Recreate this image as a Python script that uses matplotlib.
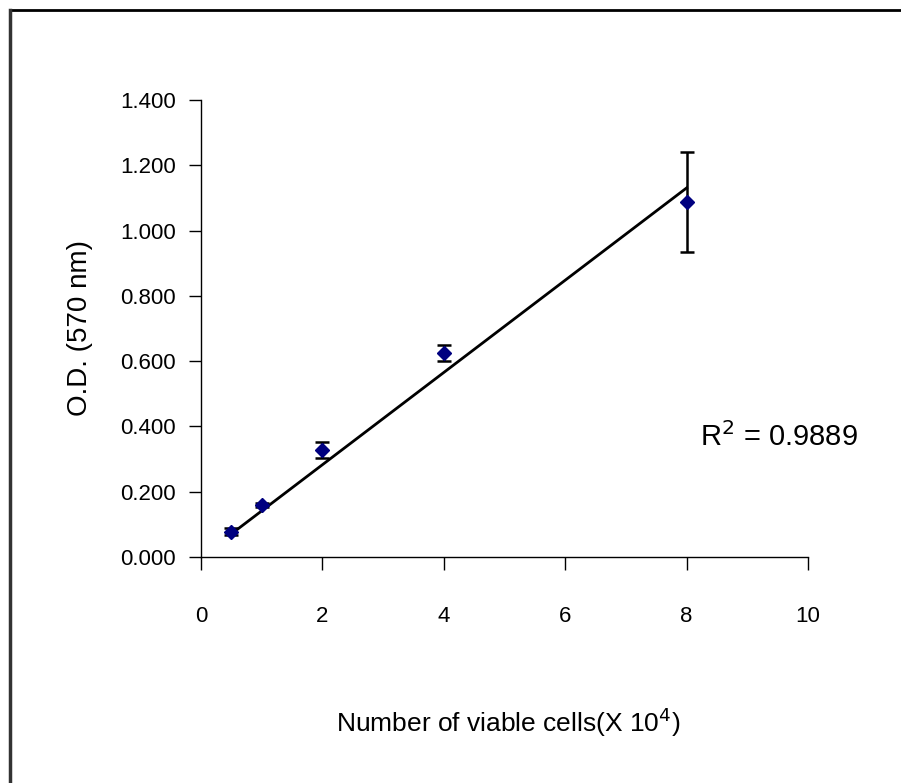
import numpy as np
import matplotlib
matplotlib.use("Agg")
import matplotlib.pyplot as plt
from matplotlib.lines import Line2D

# data
cells = [0.5, 1, 2, 4, 8]               # number of viable cells (x 10^4)
od = [0.078, 0.159, 0.327, 0.625, 1.087]  # O.D. at 570 nm
od_err = [0.012, 0.006, 0.025, 0.025, 0.153]
x_ticks = [0, 2, 4, 6, 8, 10]
y_ticks = [0.0, 0.2, 0.4, 0.6, 0.8, 1.0, 1.2, 1.4]

plt.rcParams['font.family'] = ['Liberation Sans', 'DejaVu Sans']

W, H = 901, 783
fig = plt.figure(figsize=(W / 100, H / 100), dpi=100)

# axes box in pixels: x 201..808, y 100..557
ax = fig.add_axes([201 / W, 1 - 557 / H, (808 - 201) / W, (557 - 100) / H])

# trendline through origin (least squares)
x = np.array(cells)
y = np.array(od)
slope = np.sum(x * y) / np.sum(x * x)
ax.plot([x.min(), x.max()], [slope * x.min(), slope * x.max()],
        color='black', lw=2, zorder=2)

ax.errorbar(cells, od, yerr=od_err, fmt='none', ecolor='black',
            elinewidth=1.8, capsize=5, capthick=1.8, zorder=3)
ax.plot(cells, od, linestyle='none', marker='D', markersize=7.5,
        color='#000080', zorder=4)

ax.set_xlim(0, 10)
ax.set_ylim(0, 1.4)
ax.set_xticks(x_ticks)
ax.set_yticks(y_ticks)
ax.set_yticklabels(['%.3f' % v for v in y_ticks])
ax.tick_params(axis='both', direction='out', length=9, width=1,
               labelsize=16, colors='black')
ax.tick_params(axis='x', pad=26)
ax.tick_params(axis='y', pad=9)
for s in ['top', 'right']:
    ax.spines[s].set_visible(False)
for s in ['left', 'bottom']:
    ax.spines[s].set_linewidth(1)

fig.text(80 / W, 1 - 328 / H, 'O.D. (570 nm)', fontsize=20, rotation=90,
         ha='center', va='center')
fig.text(508 / W, 1 - 722 / H, r'Number of viable cells(X 10$^{4}$)',
         fontsize=19, ha='center', va='center')
fig.text(779 / W, 1 - 437 / H, r'R$^{2}$ = 0.9889',
         fontsize=21, ha='center', va='center')

# outer frame (top and left lines)
fig.add_artist(Line2D([10 / W, 1], [1 - 10 / H, 1 - 10 / H],
                      transform=fig.transFigure, color='black', lw=2))
fig.add_artist(Line2D([10 / W, 10 / W], [0, 1 - 10 / H],
                      transform=fig.transFigure, color='#333333', lw=2.5))

fig.savefig('out.png', dpi=100)
